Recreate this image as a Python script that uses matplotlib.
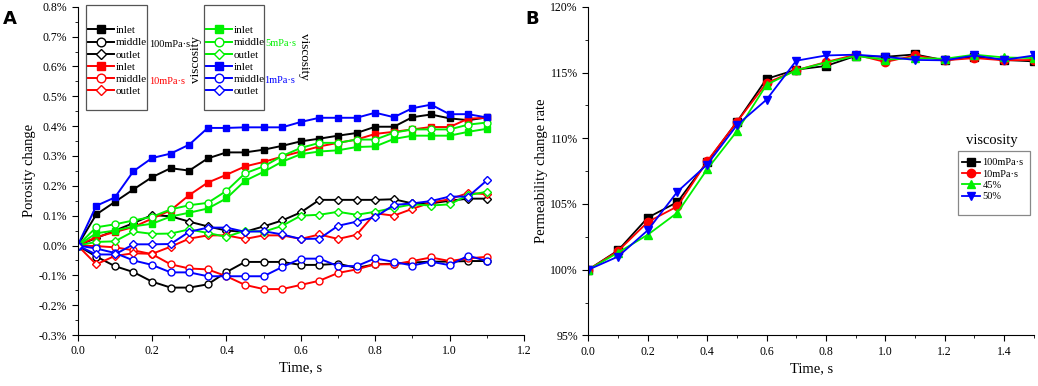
import matplotlib
matplotlib.use("Agg")
import matplotlib.pyplot as plt
from matplotlib.patches import Rectangle
from matplotlib.ticker import MultipleLocator, FuncFormatter

plt.rcParams['font.family'] = ['Liberation Serif', 'DejaVu Serif']

# ---- panel A: porosity change (%) at inlet / middle / outlet
time_a = [0.0, 0.05, 0.1, 0.15, 0.2, 0.25, 0.3, 0.35, 0.4, 0.45, 0.5, 0.55,
          0.6, 0.65, 0.7, 0.75, 0.8, 0.85, 0.9, 0.95, 1.0, 1.05, 1.1]

inlet_100 = [0, 0.104, 0.146, 0.188, 0.229, 0.259, 0.251, 0.292, 0.312, 0.312, 0.321, 0.334,
             0.349, 0.358, 0.368, 0.377, 0.398, 0.398, 0.430, 0.439, 0.426, 0.420, 0.429]
middle_100 = [0, -0.037, -0.069, -0.089, -0.121, -0.141, -0.141, -0.130, -0.089, -0.055, -0.055, -0.055,
              -0.065, -0.065, -0.061, -0.075, -0.063, -0.061, -0.057, -0.054, -0.054, -0.052, -0.052]
outlet_100 = [0, 0.025, 0.050, 0.075, 0.102, 0.098, 0.080, 0.064, 0.050, 0.046, 0.064, 0.084,
              0.111, 0.153, 0.153, 0.153, 0.153, 0.155, 0.141, 0.141, 0.150, 0.157, 0.157]

inlet_10 = [0, 0.028, 0.045, 0.062, 0.090, 0.118, 0.169, 0.211, 0.237, 0.265, 0.280, 0.298,
            0.315, 0.332, 0.344, 0.355, 0.374, 0.381, 0.389, 0.397, 0.397, 0.425, 0.428]
middle_10 = [0, -0.002, -0.006, -0.016, -0.029, -0.063, -0.077, -0.080, -0.103, -0.132, -0.146, -0.146,
             -0.132, -0.118, -0.092, -0.080, -0.063, -0.063, -0.052, -0.040, -0.052, -0.043, -0.038]
outlet_10 = [0, -0.063, -0.035, -0.026, -0.028, -0.004, 0.023, 0.034, 0.034, 0.022, 0.034, 0.034,
             0.022, 0.037, 0.022, 0.036, 0.108, 0.100, 0.123, 0.144, 0.155, 0.176, 0.172]

inlet_5 = [0, 0.041, 0.050, 0.064, 0.073, 0.097, 0.110, 0.124, 0.158, 0.217, 0.247, 0.281,
           0.306, 0.315, 0.319, 0.330, 0.332, 0.357, 0.368, 0.368, 0.368, 0.381, 0.391]
middle_5 = [0, 0.061, 0.071, 0.084, 0.096, 0.121, 0.135, 0.143, 0.183, 0.242, 0.265, 0.300,
            0.327, 0.344, 0.344, 0.355, 0.355, 0.378, 0.389, 0.389, 0.389, 0.405, 0.412]
outlet_5 = [0, 0.012, 0.014, 0.047, 0.039, 0.040, 0.054, 0.042, 0.029, 0.050, 0.046, 0.066,
            0.100, 0.103, 0.113, 0.103, 0.113, 0.126, 0.138, 0.134, 0.138, 0.169, 0.180]

inlet_1 = [0, 0.133, 0.161, 0.249, 0.293, 0.308, 0.338, 0.394, 0.394, 0.396, 0.396, 0.396,
           0.414, 0.428, 0.428, 0.428, 0.445, 0.430, 0.460, 0.472, 0.440, 0.440, 0.429]
middle_1 = [0, -0.010, -0.025, -0.050, -0.065, -0.090, -0.090, -0.103, -0.103, -0.103, -0.103, -0.072,
            -0.044, -0.044, -0.069, -0.069, -0.043, -0.055, -0.067, -0.054, -0.066, -0.034, -0.052]
outlet_1 = [0, -0.030, -0.030, 0.004, 0.004, 0.005, 0.046, 0.060, 0.060, 0.046, 0.048, 0.037,
            0.022, 0.023, 0.066, 0.080, 0.095, 0.136, 0.141, 0.149, 0.164, 0.164, 0.218]

# ---- panel B: permeability change rate (%)
time_b = [0.0, 0.1, 0.2, 0.3, 0.4, 0.5, 0.6, 0.7, 0.8, 0.9, 1.0, 1.1, 1.2, 1.3, 1.4, 1.5]
perm_100 = [100.0, 101.47, 103.96, 105.15, 108.20, 111.24, 114.52, 115.22, 115.50, 116.26,
            116.20, 116.38, 115.93, 116.20, 115.96, 115.85]
perm_10 = [100.0, 101.42, 103.63, 104.82, 108.25, 111.24, 114.20, 115.18, 115.80, 116.36,
           115.80, 116.30, 115.93, 116.10, 115.93, 115.96]
perm_45 = [100.0, 101.30, 102.66, 104.34, 107.64, 110.53, 114.07, 115.18, 115.76, 116.26,
           115.98, 116.10, 116.05, 116.36, 116.15, 116.10]
perm_50 = [100.0, 101.00, 103.00, 105.94, 108.00, 110.99, 112.94, 115.90, 116.30, 116.36,
           116.20, 115.96, 115.93, 116.30, 115.96, 116.30]
perm_labels = ['100mPa·s', '10mPa·s', '45%', '50%']

BLACK, RED, GREEN, BLUE = 'black', '#ff0000', '#00f000', '#0000ff'

fig = plt.figure(figsize=(10.38, 3.86), dpi=100)
axA = fig.add_axes([0.0748, 0.132, 0.430, 0.8505])
axB = fig.add_axes([0.5668, 0.131, 0.4292, 0.8513])

for ax in (axA, axB):
    ax.spines['top'].set_visible(False)
    ax.spines['right'].set_visible(False)
    ax.tick_params(which='both', direction='out', labelsize=8.5)
    ax.tick_params(which='major', length=4)
    ax.tick_params(which='minor', length=2.2)

# panel A lines
series = [
    (inlet_100, BLACK, 's', True, 'inlet'),
    (middle_100, BLACK, 'o', False, 'middle'),
    (outlet_100, BLACK, 'D', False, 'outlet'),
    (inlet_10, RED, 's', True, 'inlet'),
    (middle_10, RED, 'o', False, 'middle'),
    (outlet_10, RED, 'D', False, 'outlet'),
    (inlet_5, GREEN, 's', True, 'inlet'),
    (middle_5, GREEN, 'o', False, 'middle'),
    (outlet_5, GREEN, 'D', False, 'outlet'),
    (inlet_1, BLUE, 's', True, 'inlet'),
    (middle_1, BLUE, 'o', False, 'middle'),
    (outlet_1, BLUE, 'D', False, 'outlet'),
]
handles = []
for vals, c, m, filled, lab in series:
    msz = 5 if m != 'D' else 4.3
    h, = axA.plot(time_a, vals, color=c, marker=m, lw=1.4, ms=msz,
                  mfc=c if filled else 'white', mec=c, mew=1.0, label=lab)
    handles.append(h)

axA.set_xlim(0, 1.2)
axA.set_ylim(-0.3, 0.8)
axA.xaxis.set_major_locator(MultipleLocator(0.2))
axA.xaxis.set_minor_locator(MultipleLocator(0.1))
axA.yaxis.set_major_locator(MultipleLocator(0.1))
axA.yaxis.set_minor_locator(MultipleLocator(0.05))
axA.xaxis.set_major_formatter(FuncFormatter(lambda v, p: f'{v:.1f}'))
axA.yaxis.set_major_formatter(FuncFormatter(lambda v, p: f'{v:.1f}%'))
axA.set_xlabel('Time, s', fontsize=10.5, labelpad=3)
axA.set_ylabel('Porosity change', fontsize=10.5, labelpad=2)

# legend boxes for panel A
for x0, x1 in [(0.019, 0.155), (0.283, 0.418)]:
    axA.add_patch(Rectangle((x0, 0.685), x1 - x0, 0.32, transform=axA.transAxes,
                            fill=False, ec='#555555', lw=0.9, clip_on=False, zorder=5))
leg_kw = dict(loc='upper left', frameon=False, fontsize=8, handlelength=2.3,
              handletextpad=0.15, labelspacing=0.22, borderpad=0, borderaxespad=0,
              markerscale=1.25)
legA1 = axA.legend(handles=handles[:6], bbox_to_anchor=(0.024, 0.943), **leg_kw)
axA.add_artist(legA1)
axA.legend(handles=handles[6:], bbox_to_anchor=(0.288, 0.943), **leg_kw)

axA.text(0.160, 0.885, '100mPa·s', transform=axA.transAxes, fontsize=7.5,
         color=BLACK, ha='left', va='center')
axA.text(0.160, 0.772, '10mPa·s', transform=axA.transAxes, fontsize=7.5,
         color=RED, ha='left', va='center')
axA.text(0.421, 0.889, '5mPa·s', transform=axA.transAxes, fontsize=7.5,
         color=GREEN, ha='left', va='center')
axA.text(0.418, 0.776, '1mPa·s', transform=axA.transAxes, fontsize=7.5,
         color=BLUE, ha='left', va='center')
axA.text(0.266, 0.84, 'viscosity', transform=axA.transAxes, fontsize=9.5,
         rotation=90, ha='center', va='center')
axA.text(0.507, 0.85, 'viscosity', transform=axA.transAxes, fontsize=9.5,
         rotation=-90, ha='center', va='center')

# panel B
perm_series = [perm_100, perm_10, perm_45, perm_50]
perm_colors = [BLACK, RED, GREEN, BLUE]
perm_markers = ['s', 'o', '^', 'v']
hb = []
for vals, c, m, lab in zip(perm_series, perm_colors, perm_markers, perm_labels):
    h, = axB.plot(time_b, vals, color=c, marker=m, lw=1.3, ms=6, label=lab)
    hb.append(h)

axB.set_xlim(0, 1.5)
axB.set_ylim(95, 120)
axB.xaxis.set_major_locator(MultipleLocator(0.2))
axB.xaxis.set_minor_locator(MultipleLocator(0.1))
axB.yaxis.set_major_locator(MultipleLocator(5))
axB.yaxis.set_minor_locator(MultipleLocator(2.5))
axB.xaxis.set_major_formatter(FuncFormatter(lambda v, p: f'{v:.1f}'))
axB.yaxis.set_major_formatter(FuncFormatter(lambda v, p: f'{v:.0f}%'))
axB.set_xlabel('Time, s', fontsize=10.5, labelpad=3)
axB.set_ylabel('Permeability change rate', fontsize=10.5, labelpad=2)

axB.add_patch(Rectangle((0.830, 0.366), 0.162, 0.196, transform=axB.transAxes,
                        fill=False, ec='#888888', lw=0.9, clip_on=False, zorder=5))
axB.legend(handles=hb, loc='upper left', bbox_to_anchor=(0.838, 0.54),
           frameon=False, fontsize=7.5, handlelength=1.8, handletextpad=0.2,
           labelspacing=0.2, borderpad=0, borderaxespad=0)
axB.text(0.905, 0.592, 'viscosity', transform=axB.transAxes, fontsize=10.5,
         ha='center', va='center')

fig.text(0.003, 0.975, 'A', fontsize=13, fontweight='bold', family='DejaVu Sans',
         ha='left', va='top')
fig.text(0.506, 0.975, 'B', fontsize=13, fontweight='bold', family='DejaVu Sans',
         ha='left', va='top')

fig.savefig('out.png', dpi=100)
